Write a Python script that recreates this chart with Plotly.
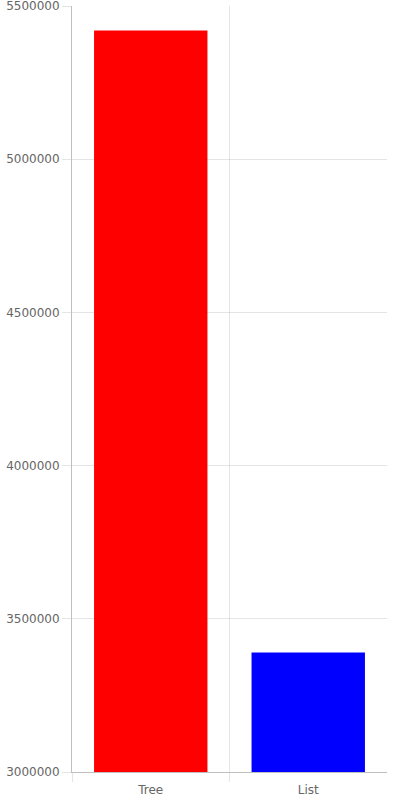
import plotly.graph_objects as go

categories = ["Tree", "List"]
values = [5420000, 3390000]
bar_colors = ["#ff0000", "#0000ff"]
y_ticks = [3000000, 3500000, 4000000, 4500000, 5000000, 5500000]

fig = go.Figure(go.Bar(
    x=categories, y=values, width=0.72,
    marker=dict(color=bar_colors, line=dict(width=0)),
))
# empty helper trace so the boundary-grid axis is drawn
fig.add_trace(go.Scatter(x=[], y=[], xaxis="x2", yaxis="y",
                         showlegend=False, hoverinfo="skip"))

grid = "rgba(0,0,0,0.1)"
fig.update_layout(
    width=400, height=800,
    margin=dict(l=72, r=13, t=6, b=28, autoexpand=False),
    paper_bgcolor="white", plot_bgcolor="white",
    showlegend=False,
    font=dict(family="DejaVu Sans", size=12, color="#666"),
    xaxis=dict(
        type="category", range=[-0.5, 1.5],
        showgrid=False, ticks="outside", ticklen=7,
        tickcolor="rgba(0,0,0,0)",
        showline=True, linecolor="rgba(0,0,0,0.25)", linewidth=1,
        zeroline=False, tickfont=dict(size=12, color="#666"),
        automargin=False,
    ),
    xaxis2=dict(
        overlaying="x", anchor="y", side="bottom",
        range=[-0.5, 1.5], tickvals=[-0.5, 0.5],
        showticklabels=False,
        showgrid=True, gridcolor=grid, gridwidth=1,
        ticks="outside", ticklen=9, tickcolor=grid,
        showline=False, zeroline=False, automargin=False,
    ),
    yaxis=dict(
        range=[3000000, 5500000], tickvals=y_ticks,
        ticktext=[str(v) for v in y_ticks],
        showgrid=True, gridcolor=grid, gridwidth=1,
        ticks="outside", ticklen=9, tickcolor=grid,
        showline=True, linecolor="rgba(0,0,0,0.25)", linewidth=1,
        zeroline=False, tickfont=dict(size=12, color="#666"),
        automargin=False, ticklabeloverflow="allow",
    ),
)
fig.write_html(
    "out.html",
    config={"displayModeBar": False},
    post_script="document.body.style.margin='0';document.body.style.overflow='hidden';",
)
